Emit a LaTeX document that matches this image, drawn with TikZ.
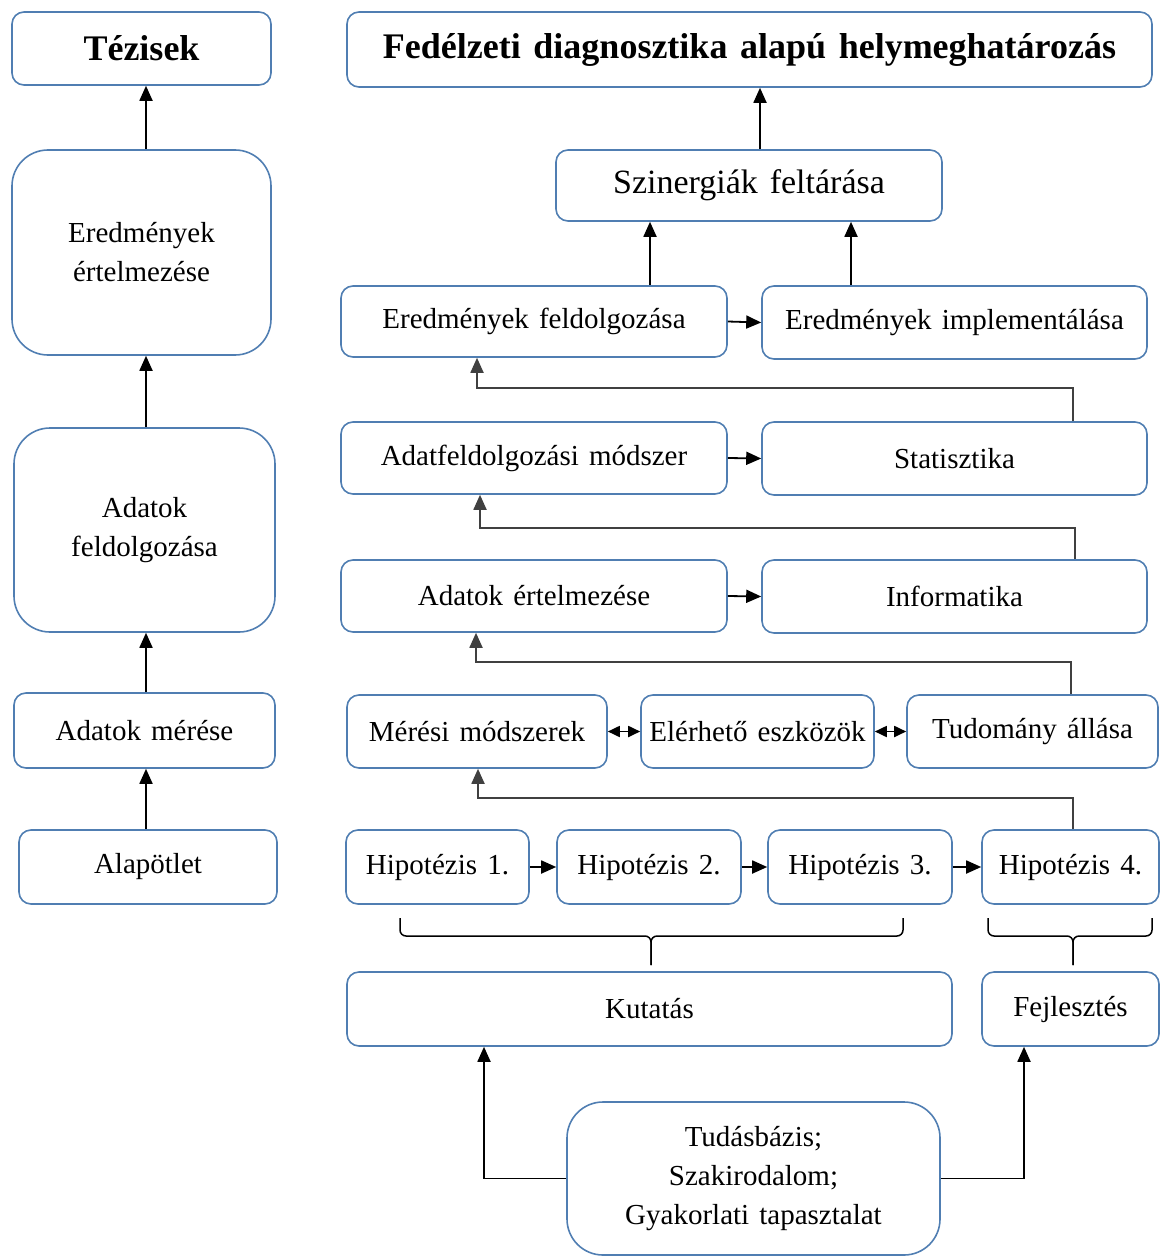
\documentclass[tikz,border=0pt]{standalone}
\usepackage{fontspec}
\setmainfont{Liberation Serif}[WordSpace=1.4]
\usetikzlibrary{arrows.meta}
\definecolor{boxblue}{RGB}{80,126,178}

\begin{document}
\begin{tikzpicture}[x=1pt,y=-1pt]
  \tikzstyle{box}=[draw=boxblue, line width=1.6pt, rounded corners=12pt, inner sep=0pt, align=center, font=\fontsize{29}{39}\selectfont]
  \tikzstyle{bigbox}=[box, rounded corners=36pt]
  \tikzstyle{headbox}=[box, font=\fontsize{36}{40}\selectfont\bfseries]
  \tikzstyle{arr}=[-{Triangle[length=15pt,width=13pt]}, line width=1.8pt]
  \tikzstyle{dblarr}=[{Triangle[length=12pt,width=11pt]}-{Triangle[length=12pt,width=11pt]}, line width=1.8pt]
  \tikzstyle{brace}=[line width=1.5pt, rounded corners=6pt]
  \useasboundingbox (0,0) rectangle (1161,1257);

  % left column
  \node[headbox, minimum width=259pt, minimum height=73pt] (tez) at (141.5,48.5) {Tézisek};
  \node[bigbox, minimum width=259pt, minimum height=205pt] (eredert) at (141.5,252.5) {Eredmények\\értelmezése};
  \node[bigbox, minimum width=261pt, minimum height=204pt] (adfeld) at (144.5,530) {Adatok\\feldolgozása};
  \node[box, minimum width=261pt, minimum height=75pt] (admer) at (144.5,730.5) {Adatok mérése};
  \node[box, minimum width=258pt, minimum height=74pt] (alap) at (148,867) {Alapötlet};

  % right column
  \node[headbox, minimum width=805pt, minimum height=75pt] (title) at (749.5,49.5) {Fedélzeti diagnosztika alapú helymeghatározás};
  \node[box, minimum width=386pt, minimum height=71pt, font=\fontsize{34}{38}\selectfont] (szin) at (749,185.5) {Szinergiák feltárása};
  \node[box, minimum width=386pt, minimum height=71pt] (erfeld) at (534,321.5) {Eredmények feldolgozása};
  \node[box, minimum width=385pt, minimum height=73pt] (erimpl) at (954.5,322.5) {Eredmények implementálása};
  \node[box, minimum width=386pt, minimum height=72pt] (admod) at (534,458) {Adatfeldolgozási módszer};
  \node[box, minimum width=385pt, minimum height=73pt] (stat) at (954.5,458.5) {Statisztika};
  \node[box, minimum width=386pt, minimum height=72pt] (adert) at (534,596) {Adatok értelmezése};
  \node[box, minimum width=385pt, minimum height=73pt] (info) at (954.5,596.5) {Informatika};
  \node[box, minimum width=260pt, minimum height=73pt] (meres) at (477,731.5) {Mérési módszerek};
  \node[box, minimum width=233pt, minimum height=73pt] (eszk) at (757.5,731.5) {Elérhető eszközök};
  \node[box, minimum width=251pt, minimum height=73pt] (tud) at (1032.5,731.5) {Tudomány állása};
  \node[box, minimum width=183pt, minimum height=74pt] (hipa) at (437.5,867) {Hipotézis 1.};
  \node[box, minimum width=184pt, minimum height=74pt] (hipb) at (649,867) {Hipotézis 2.};
  \node[box, minimum width=184pt, minimum height=74pt] (hipc) at (860,867) {Hipotézis 3.};
  \node[box, minimum width=177pt, minimum height=74pt] (hipd) at (1070.5,867) {Hipotézis 4.};
  \node[box, minimum width=605pt, minimum height=74pt] (kut) at (649.5,1009) {Kutatás};
  \node[box, minimum width=177pt, minimum height=74pt] (fejl) at (1070.5,1009) {Fejlesztés};
  \node[bigbox, minimum width=373pt, minimum height=153pt] (tudas) at (753.5,1178.5) {Tudásbázis;\\Szakirodalom;\\Gyakorlati tapasztalat};

  % left column arrows
  \draw[arr] ([xshift=-2pt]alap.north) -- ([xshift=-2pt]alap.north |- admer.south);
  \draw[arr] ([xshift=1.5pt]admer.north) -- ([xshift=1.5pt]admer.north |- adfeld.south);
  \draw[arr] ([xshift=1.5pt]adfeld.north) -- ([xshift=1.5pt]adfeld.north |- eredert.south);
  \draw[arr] ([xshift=4.5pt]eredert.north) -- ([xshift=4.5pt]eredert.north |- tez.south);

  % right column arrows
  \draw[arr] ([xshift=11pt]szin.north) -- ([xshift=11pt]szin.north |- title.south);
  \draw[arr] ([xshift=116pt]erfeld.north) -- ([xshift=116pt]erfeld.north |- szin.south);
  \draw[arr] ([xshift=-103.5pt]erimpl.north) -- ([xshift=-103.5pt]erimpl.north |- szin.south);
  \draw[arr] (erfeld.east) -- (erimpl.west);
  \draw[arr] (admod.east) -- (stat.west);
  \draw[arr] (adert.east) -- (info.west);
  \draw[dblarr] (meres.east) -- (eszk.west);
  \draw[dblarr] (eszk.east) -- (tud.west);
  \draw[arr] (hipa.east) -- (hipb.west);
  \draw[arr] (hipb.east) -- (hipc.west);
  \draw[arr] (hipc.east) -- (hipd.west);

  % feedback lines
  \coordinate (fba) at (477,388);
  \coordinate (fbb) at (480,528);
  \coordinate (fbc) at (476,662);
  \coordinate (fbd) at (478,798);
  \draw[arr, draw=black!75] ([xshift=118.5pt]stat.north) |- (fba) -- (fba |- erfeld.south);
  \draw[arr, draw=black!75] ([xshift=120.5pt]info.north) |- (fbb) -- (fbb |- admod.south);
  \draw[arr, draw=black!75] ([xshift=38.5pt]tud.north) |- (fbc) -- (fbc |- adert.south);
  \draw[arr, draw=black!75] ([xshift=2.5pt]hipd.north) |- (fbd) -- (fbd |- meres.south);

  % braces
  \draw[brace] (400,918) -- (400,936) -- (651,936) -- (651,965);
  \draw[brace] (903,918) -- (903,936) -- (651,936) -- (651,965);
  \draw[brace] (988,918) -- (988,936) -- (1073,936) -- (1073,965);
  \draw[brace] (1152,918) -- (1152,936) -- (1073,936) -- (1073,965);

  % knowledge base
  \draw[arr] (tudas.west) -| ([xshift=-165.5pt]kut.south);
  \draw[arr] (tudas.east) -| ([xshift=-46.5pt]fejl.south);
\end{tikzpicture}
\end{document}
